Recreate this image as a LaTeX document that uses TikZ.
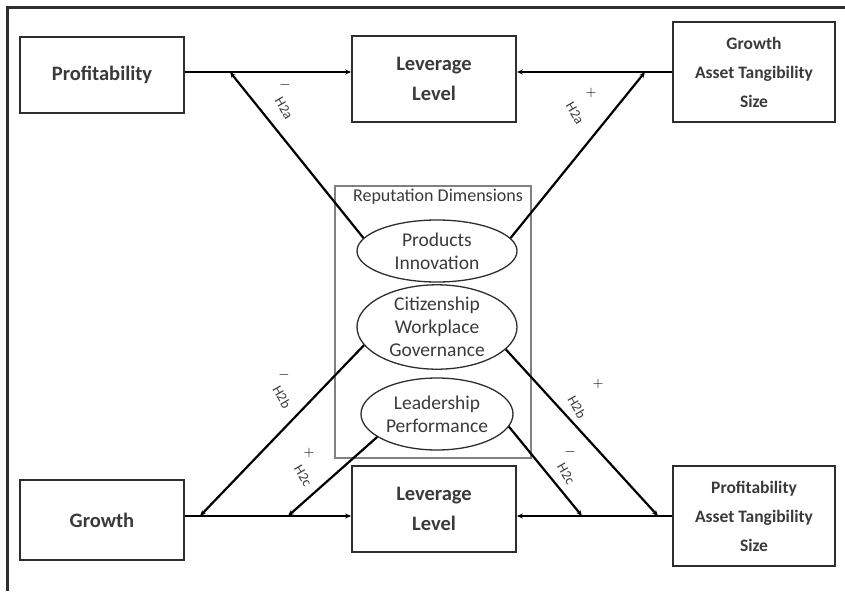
\documentclass[tikz,border=0pt]{standalone}
\usepackage{fontspec}
\setmainfont{Carlito}
\usetikzlibrary{shapes.geometric,arrows.meta}
\definecolor{ink}{HTML}{2E2E2E}
\definecolor{txt}{HTML}{3A3A3A}
\tikzset{
  bigbox/.style={draw=ink,line width=1.8pt,minimum width=164pt,text=txt,font=\bfseries\fontsize{20.5}{30}\selectfont,align=center,inner sep=0pt},
  sidebox/.style={draw=ink,line width=1.6pt,minimum width=162pt,text=txt,font=\bfseries\fontsize{17.5}{29}\selectfont,align=center,inner sep=0pt},
  dim/.style={ellipse,draw=ink,line width=1.3pt,inner sep=0pt,text=txt,font=\fontsize{19.5}{23}\selectfont,align=center},
  conn/.style={draw=black,line width=2.2pt,-{Stealth[length=6pt,width=5pt]}},
  hyp/.style={rotate=-60,font=\fontsize{14}{14}\selectfont,text=txt,inner sep=0pt},
  sgn/.style={font=\bfseries\fontsize{15}{15}\selectfont,text=black,inner sep=0pt},
}
\begin{document}
\begin{tikzpicture}[x=1pt,y=-1pt]
\useasboundingbox (0,0) rectangle (845,591);
\fill[white] (0,0) rectangle (845,591);
% frame
\draw[line width=3pt,draw=ink] (7,591) -- (7,8) -- (845,8);

% top row
\node[bigbox,minimum height=76pt] (prof) at (102,75) {Profitability};
\node[bigbox,minimum height=86pt] (levt) at (434,79) {Leverage\\Level};
\node[sidebox,minimum height=100pt] (ctrt) at (754,72) {Growth\\Asset Tangibility\\Size};

% bottom row
\node[bigbox,minimum height=80pt] (grow) at (102,520) {Growth};
\node[bigbox,minimum height=86pt] (levb) at (434,509) {Leverage\\Level};
\node[sidebox,minimum height=100pt] (ctrb) at (754,516) {Profitability\\Asset Tangibility\\Size};

% reputation box
\node[draw=gray,line width=1.4pt,minimum width=196pt,minimum height=272pt,inner sep=0pt] (rep) at (433,322) {};
\node[font=\fontsize{18}{20}\selectfont,text=txt] (reptitle) at (438,197) {Reputation Dimensions};
\node[dim,minimum width=160pt,minimum height=62pt] (prod) at (437,251) {Products\\Innovation};
\node[dim,minimum width=160pt,minimum height=82pt] (cit) at (437,327) {Citizenship\\Workplace\\Governance};
\node[dim,minimum width=152pt,minimum height=72pt] (lead) at (437,414) {Leadership\\Performance};

% horizontal connectors
\coordinate (yt) at (0,72);
\coordinate (yb) at (0,516);
\draw[conn] (prof.east |- yt) -- (levt.west |- yt);
\draw[conn] (ctrt.west |- yt) -- (levt.east |- yt);
\draw[conn] (grow.east |- yb) -- (levb.west |- yb);
\draw[conn] (ctrb.west |- yb) -- (levb.east |- yb);

% targets on horizontal lines
\coordinate (t1) at (230,72);
\coordinate (t2) at (645,72);
\coordinate (b1) at (200,516);
\coordinate (b2) at (288,516);
\coordinate (b3) at (582,516);
\coordinate (b4) at (658,516);

\draw[conn] (prod.170) -- (t1);
\draw[conn] (prod.10) -- (t2);
\draw[conn] (cit.194) -- (b1);
\draw[conn] (cit.342) -- (b4);
\draw[conn] (lead.201) -- (b2);
\draw[conn] (lead.350) -- (b3);

% hypothesis labels
\node[hyp] (h1) at (284,108) {H2a};
\node[sgn] (s1) at (285,85) {$-$};
\node[hyp] (h2) at (575,113) {H2a};
\node[sgn] (s2) at (591,93) {$+$};
\node[hyp] (h3) at (282,397) {H2b};
\node[sgn] (s3) at (284,375) {$-$};
\node[hyp] (h4) at (577,407) {H2b};
\node[sgn] (s4) at (598,384) {$+$};
\node[hyp] (h5) at (303,476) {H2c};
\node[sgn] (s5) at (309,453) {$+$};
\node[hyp] (h6) at (566,474) {H2c};
\node[sgn] (s6) at (570,452) {$-$};
\end{tikzpicture}
\end{document}
